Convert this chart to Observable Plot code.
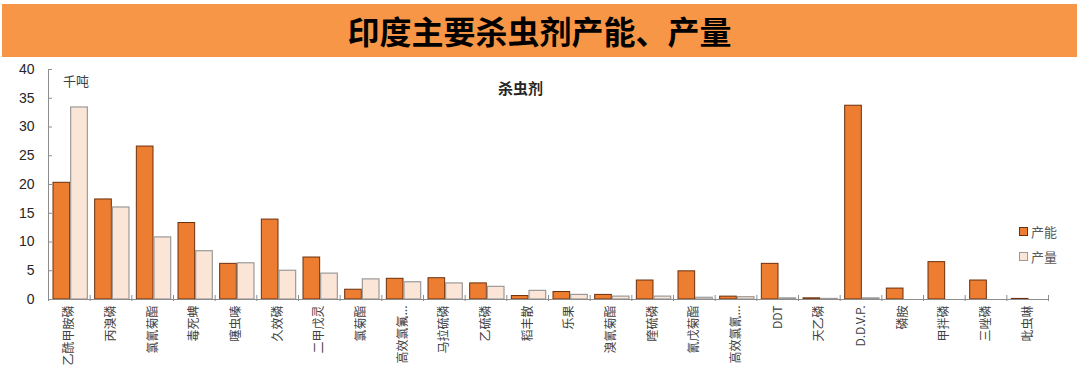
<!DOCTYPE html>
<html><head><meta charset="utf-8">
<script src="https://cdn.jsdelivr.net/npm/d3@7"></script>
<script src="https://cdn.jsdelivr.net/npm/@observablehq/plot@0.6"></script>
<style>
body{margin:0;background:#fff;width:1080px;height:380px;position:relative;overflow:hidden;font-family:"Noto Sans CJK SC","Noto Sans",sans-serif;}
#title{position:absolute;left:2px;top:4px;width:1075px;height:53px;background:#F79646;text-align:center;font-weight:bold;font-size:32px;line-height:53px;color:#000;}
#chart{position:absolute;left:0;top:60px;}
#unit{position:absolute;left:63px;top:71px;font-size:13px;color:#404040;}
#sub{position:absolute;left:498px;top:77px;font-size:15px;font-weight:bold;color:#262626;}
#legend{position:absolute;left:1019px;top:219px;font-size:13px;color:#595959;}
#legend div{display:flex;align-items:center;height:25px;}
#legend span.sw{display:inline-block;width:7px;height:7px;margin-right:3px;}
</style></head>
<body>
<div id="title">印度主要杀虫剂产能、产量</div>
<div id="chart"></div>
<div id="unit">千吨</div>
<div id="sub">杀虫剂</div>
<div id="legend"></div>
<script>
const names = ["乙酰甲胺磷","丙溴磷","氯氰菊酯","毒死蜱","噻虫嗪","久效磷","二甲戊灵","氯菊酯","高效氯氟...","马拉硫磷","乙硫磷","稻丰散","乐果","溴氰菊酯","喹硫磷","氰戊菊酯","高效氯氰...","DDT","天乙磷","D.D.V.P.","磷胺","甲拌磷","三唑磷","吡虫啉"];
const capacity = [20.3,17.4,26.6,13.3,6.2,13.9,7.3,1.7,3.6,3.7,2.8,0.6,1.3,0.8,3.3,4.9,0.5,6.2,0.2,33.7,1.9,6.5,3.3,0.1];
const output   = [33.4,16.0,10.8,8.4,6.3,5.0,4.5,3.5,3.0,2.8,2.2,1.5,0.8,0.5,0.5,0.3,0.4,0.2,0.1,0.2,0,0,0,0];
const seriesNames = ["产能","产量"];
const seriesColors = ["#ED7D31","#FBE5D6"];
const seriesStrokes = ["#6b300c","#9a9a9a"];
const yTicks = [0,5,10,15,20,25,30,35,40];

const capData = names.map((n,i)=>({name:n, v:capacity[i]}));
const outData = names.map((n,i)=>({name:n, v:output[i]}));

const W = 1080, ML = 48, MR = 32;
const band = (W-ML-MR)/names.length;
const barW = band*0.4;

const chart = Plot.plot({
  width: W, height: 320,
  marginTop: 9, marginBottom: 81, marginLeft: ML, marginRight: MR,
  style: {fontFamily: '"Liberation Sans", Arial, sans-serif', background: "transparent"},
  x: {domain: names, padding: 0, round: false, label: null},
  y: {domain: [0,40], label: null},
  marks: [
    Plot.barY(capData, {x:"name", y:"v", fill: seriesColors[0], stroke: seriesStrokes[0], strokeWidth: 1,
      insetLeft: band*0.12, insetRight: band - band*0.12 - barW}),
    Plot.barY(outData, {x:"name", y:"v", fill: seriesColors[1], stroke: seriesStrokes[1], strokeWidth: 1.2,
      insetLeft: band*0.12 + barW + 1, insetRight: band - band*0.12 - 2*barW - 1}),
    Plot.frame({anchor:"left", stroke:"#8c8c8c"}),
    Plot.ruleY([0], {stroke:"#8c8c8c"}),
    Plot.tickY(yTicks, {y: d=>d, x: ()=>names[0], stroke:"#8c8c8c", insetRight: band-4}),
    Plot.ruleX(names, {x: d=>d, dx: -band/2, y1: 0, y2: 0, insetTop: -4, insetBottom: -2, stroke:"#8c8c8c"}),
    Plot.ruleX([names[names.length-1]], {x: d=>d, dx: band/2, y1: 0, y2: 0, insetTop: -4, insetBottom: -2, stroke:"#8c8c8c"}),
    Plot.axisY({ticks: yTicks, tickSize: 0, tickPadding: 14, fontSize: 14, color:"#262626", tickFormat: d=>d}),
    Plot.axisX({tickSize: 0, tickPadding: 6, tickRotate: -90, fontSize: 12, color:"#404040",
      fontFamily: '"Noto Sans CJK SC", sans-serif'})
  ]
});
document.getElementById("chart").appendChild(chart);

const lg = document.getElementById("legend");
seriesNames.forEach((s,i)=>{
  const d = document.createElement("div");
  d.innerHTML = `<span class="sw" style="background:${seriesColors[i]};border:1px solid ${seriesStrokes[i]}"></span>${s}`;
  lg.appendChild(d);
});
</script>
</body></html>
